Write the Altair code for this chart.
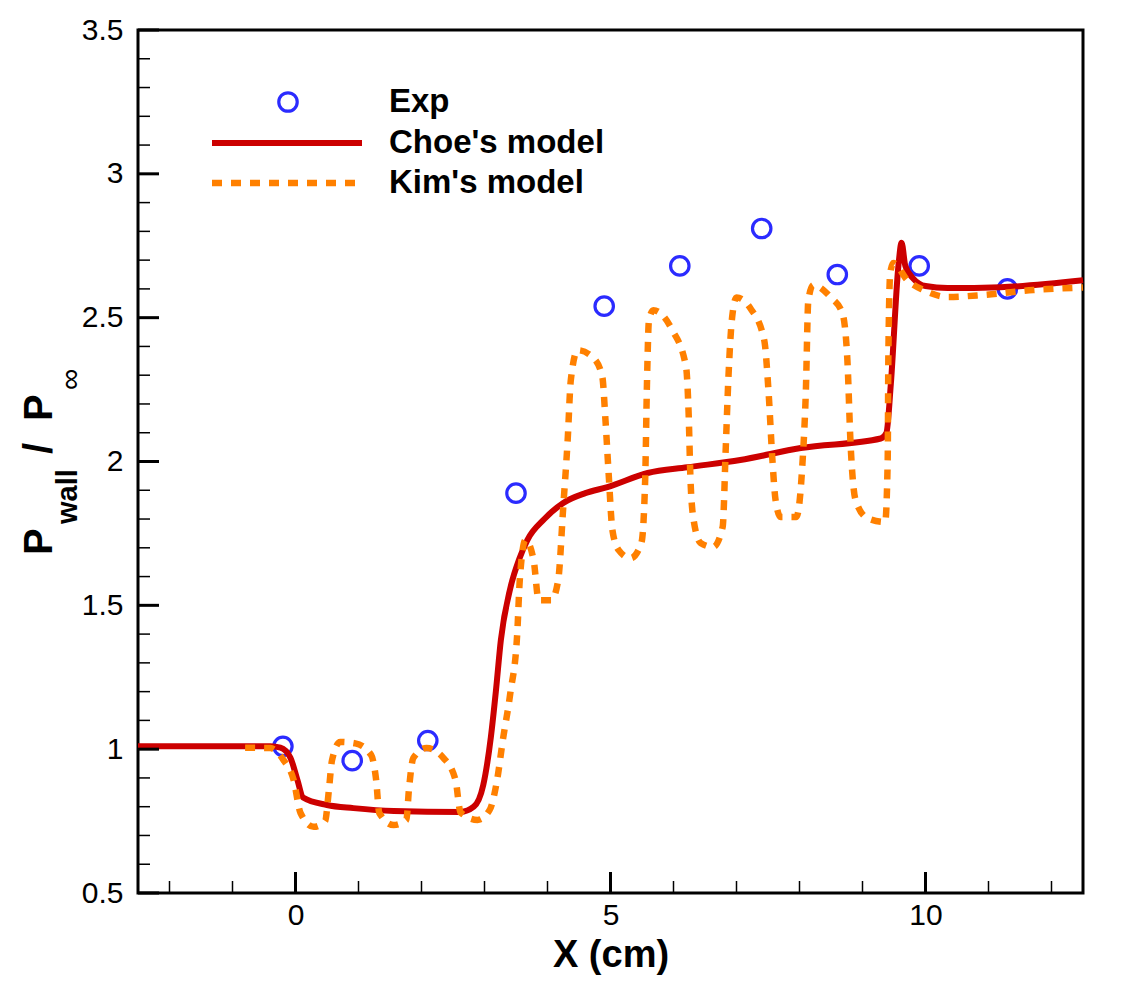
import altair as alt
import pandas as pd
import numpy as np

# ---------------- data ----------------
exp_x = [-0.2, 0.9, 2.1, 3.5, 4.9, 6.1, 7.4, 8.6, 9.9, 11.3]
exp_y = [1.01, 0.96, 1.03, 1.89, 2.54, 2.68, 2.81, 2.65, 2.68, 2.60]

choe_x = [-2.5, -0.4, -0.24, -0.08, 0.03, 0.12, 0.5, 0.92, 1.56, 2.62, 2.83, 2.98,
          3.1, 3.18, 3.26, 3.41, 3.55, 3.68, 3.95, 4.25, 4.6, 4.95, 5.59, 6.22,
          7.06, 8.02, 9.29, 9.38, 9.45, 9.57, 9.62, 9.68, 9.81, 10.0, 10.35,
          11.19, 12.5]
choe_y = [1.01, 1.01, 1.005, 0.97, 0.893, 0.832, 0.806, 0.795, 0.785, 0.782, 0.80,
          0.875, 1.04, 1.2, 1.38, 1.56, 1.66, 1.727, 1.80, 1.856, 1.89, 1.911,
          1.96, 1.98, 2.005, 2.047, 2.08, 2.10, 2.27, 2.68, 2.76, 2.68, 2.635,
          2.61, 2.603, 2.606, 2.63]

kim_x = [-0.8, -0.4, -0.19, -0.03, 0.08, 0.29, 0.47, 0.53, 0.58, 0.71, 0.95, 1.2,
         1.28, 1.33, 1.56, 1.76, 1.80, 1.87, 2.08, 2.35, 2.54, 2.62, 2.89, 3.08,
         3.2, 3.29, 3.41, 3.52, 3.56, 3.65, 3.78, 3.86, 4.06, 4.17, 4.25, 4.32,
         4.37, 4.48, 4.73, 4.87, 4.92, 4.97, 5.03, 5.13, 5.32, 5.49, 5.55, 5.58,
         5.61, 5.68, 5.98, 6.2, 6.24, 6.27, 6.32, 6.43, 6.63, 6.78, 6.83, 6.87,
         6.93, 7.0, 7.22, 7.44, 7.51, 7.57, 7.62, 7.70, 7.95, 8.05, 8.10, 8.14,
         8.22, 8.49, 8.68, 8.76, 8.81, 8.89, 9.08, 9.36, 9.40, 9.41, 9.44, 9.49,
         9.71, 9.97, 10.35, 10.92, 11.71, 12.5]
kim_y = [1.005, 1.004, 0.962, 0.893, 0.778, 0.73, 0.75, 0.858, 0.962, 1.025, 1.02,
         0.98, 0.893, 0.778, 0.736, 0.754, 0.858, 0.969, 1.004, 0.969, 0.893,
         0.78, 0.754, 0.788, 0.893, 1.03, 1.195, 1.404, 1.588, 1.727, 1.657,
         1.518, 1.518, 1.588, 1.842, 2.074, 2.283, 2.387, 2.36, 2.294, 2.144,
         1.96, 1.762, 1.692, 1.664, 1.717, 1.935, 2.283, 2.49, 2.526, 2.457,
         2.328, 2.168, 1.935, 1.796, 1.717, 1.703, 1.772, 2.05, 2.283, 2.50,
         2.57, 2.533, 2.422, 2.238, 2.005, 1.866, 1.807, 1.807, 2.005, 2.238,
         2.561, 2.613, 2.572, 2.516, 2.353, 2.064, 1.866, 1.803, 1.79, 2.005,
         2.353, 2.655, 2.69, 2.631, 2.596, 2.572, 2.579, 2.596, 2.605]

x_major = [0, 5, 10]
x_minor = [-2, -1, 1, 2, 3, 4, 6, 7, 8, 9, 11, 12]
y_major = [0.5, 1.0, 1.5, 2.0, 2.5, 3.0, 3.5]
y_minor = [round(v, 1) for v in np.arange(0.6, 3.45, 0.1) if round(v * 10) % 5 != 0]

legend_labels = ["Exp", "Choe's model", "Kim's model"]

# ---------------- styling ----------------
W, H = 945, 863
FONT = "Liberation Sans"
RED = "#cc0000"
ORANGE = "#ff8000"
BLUE = "#2b2bff"

xs = alt.Scale(domain=[-2.5, 12.5], nice=False, zero=False)
ys = alt.Scale(domain=[0.5, 3.5], nice=False, zero=False)

x_axis = alt.Axis(values=x_major, format=".1~f", ticks=False, domain=False, grid=False,
                  labelFont=FONT, labelFontSize=30, labelColor="black", labelPadding=7,
                  title="X (cm)", titleFont=FONT, titleFontSize=38, titleFontWeight="bold",
                  titleColor="black", titlePadding=6)
y_axis = alt.Axis(values=y_major, format=".1~f", ticks=False, domain=False, grid=False,
                  labelFont=FONT, labelFontSize=30, labelColor="black", labelPadding=15,
                  title="")

X = lambda: alt.X("x:Q", scale=xs, axis=x_axis)
Y = lambda: alt.Y("y:Q", scale=ys, axis=y_axis)

exp_df = pd.DataFrame({"x": exp_x, "y": exp_y})
choe_df = pd.DataFrame({"x": choe_x, "y": choe_y})
kim_df = pd.DataFrame({"x": kim_x, "y": kim_y})

circles = alt.Chart(exp_df).mark_point(shape="circle", filled=False, size=340,
                                       strokeWidth=3.2, color=BLUE, opacity=1).encode(x=X(), y=Y())
choe = alt.Chart(choe_df).mark_line(color=RED, strokeWidth=6, interpolate="monotone").encode(x=X(), y=Y())
kim = alt.Chart(kim_df).mark_line(color=ORANGE, strokeWidth=6.5, strokeDash=[10, 9],
                                  interpolate="monotone").encode(x=X(), y=Y())

# inward ticks
ytm = alt.Chart(pd.DataFrame({"y": y_major})).mark_rule(color="black", strokeWidth=3).encode(
    y=Y(), x=alt.value(0), x2=alt.value(21))
ytn = alt.Chart(pd.DataFrame({"y": y_minor})).mark_rule(color="black", strokeWidth=1.5).encode(
    y=Y(), x=alt.value(0), x2=alt.value(12))
xtm = alt.Chart(pd.DataFrame({"x": x_major})).mark_rule(color="black", strokeWidth=3).encode(
    x=X(), y=alt.value(H), y2=alt.value(H - 21))
xtn = alt.Chart(pd.DataFrame({"x": x_minor})).mark_rule(color="black", strokeWidth=1.5).encode(
    x=X(), y=alt.value(H), y2=alt.value(H - 12))

one = pd.DataFrame({"a": [0]})

# legend
leg_c = alt.Chart(one).mark_point(shape="circle", filled=False, size=340, strokeWidth=3.2,
                                  color=BLUE, opacity=1).encode(x=alt.value(150), y=alt.value(72))
leg_r = alt.Chart(one).mark_rule(color=RED, strokeWidth=6).encode(
    x=alt.value(74), x2=alt.value(224), y=alt.value(113))
leg_o = alt.Chart(one).mark_rule(color=ORANGE, strokeWidth=6.5, strokeDash=[10, 9]).encode(
    x=alt.value(74), x2=alt.value(219), y=alt.value(153))
leg_text = []
for lab, yy in zip(legend_labels, [72, 113, 153]):
    leg_text.append(alt.Chart(one).mark_text(align="left", baseline="middle", font=FONT,
                                             fontSize=33, fontWeight="bold", color="black").encode(
        x=alt.value(251), y=alt.value(yy), text=alt.value(lab)))

# y-axis title pieces (rotated)
def ytxt(t, x, y, size, weight):
    return alt.Chart(one).mark_text(align="left", baseline="alphabetic", angle=270, font=FONT,
                                    fontSize=size, fontWeight=weight, color="black").encode(
        x=alt.value(x), y=alt.value(y), text=alt.value(t))

ytitle = [
    ytxt("P", -86, 525, 40, "bold"),
    ytxt("wall", -61, 494, 29, "bold"),
    ytxt("/", -86, 424, 40, "bold"),
    ytxt("P", -86, 391, 40, "bold"),
    ytxt("∞", -58, 360, 30, "normal"),
]

chart = alt.layer(circles, choe, kim, ytm, ytn, xtm, xtn, leg_c, leg_r, leg_o,
                  *leg_text, *ytitle).properties(
    width=W, height=H,
    padding={"left": 138, "top": 30, "right": 55, "bottom": 90},
    autosize="none",
    background="white",
).configure_view(stroke="black", strokeWidth=3)

chart.save("out.html", embed_options={"renderer": "svg", "actions": False})
